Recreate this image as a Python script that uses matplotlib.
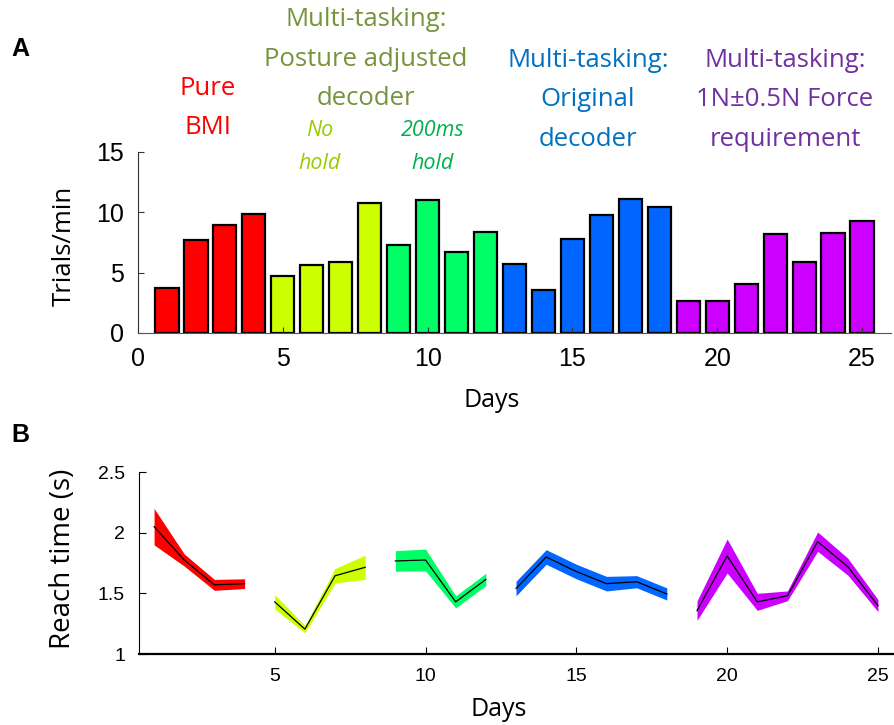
import matplotlib.pyplot as plt
import numpy as np

# Trials per minute for each recording day
days = np.arange(1, 26)
trials_per_min = [3.7, 7.7, 8.95, 9.9,
                  4.7, 5.65, 5.85, 10.75,
                  7.3, 11.0, 6.7, 8.4,
                  5.7, 3.6, 7.75, 9.8, 11.1, 10.4,
                  2.65, 2.65, 4.1, 8.2, 5.85, 8.25, 9.25]

# Reach time mean and spread per day
reach_time = [2.05, 1.775, 1.57, 1.58,
              1.43, 1.205, 1.645, 1.715,
              1.767, 1.775, 1.43, 1.615,
              1.54, 1.80, 1.68, 1.58, 1.596, 1.495,
              1.357, 1.808, 1.43, 1.48, 1.926, 1.72, 1.40]
reach_sem = [0.15, 0.05, 0.045, 0.04,
             0.06, 0.03, 0.06, 0.1,
             0.085, 0.09, 0.05, 0.05,
             0.06, 0.06, 0.06, 0.06, 0.05, 0.05,
             0.08, 0.14, 0.07, 0.04, 0.08, 0.07, 0.05]

# condition blocks: (first day, last day, colour)
blocks = [(1, 4, '#ff0000'),
          (5, 8, '#ccff00'),
          (9, 12, '#00ff66'),
          (13, 18, '#0066ff'),
          (19, 25, '#cc00ff')]

label_font = ['Open Sans', 'DejaVu Sans']
tick_font = 'Liberation Sans'

fig = plt.figure(figsize=(8.95, 7.25), dpi=100)

# ---- panel A: bars
ax1 = fig.add_axes([0.1542, 0.5407, 0.8413, 0.2497])
bar_colors = []
for d in days:
    for start, end, c in blocks:
        if start <= d <= end:
            bar_colors.append(c)
ax1.bar(days, trials_per_min, width=0.8, color=bar_colors,
        edgecolor='black', linewidth=1.6)
ax1.set_xlim(0, 26)
ax1.set_ylim(0, 15)
ax1.set_xticks([0, 5, 10, 15, 20, 25])
ax1.set_yticks([0, 5, 10, 15])
for s in ['top', 'right']:
    ax1.spines[s].set_visible(False)
ax1.spines['bottom'].set_color('#555555')
ax1.spines['left'].set_color('#333333')
ax1.tick_params(direction='in', length=4, labelsize=18, pad=10, color='#333333')
for lab in ax1.get_xticklabels() + ax1.get_yticklabels():
    lab.set_family(tick_font)
ax1.set_ylabel('Trials/min', family=label_font, fontsize=18.5, va='center')
ax1.yaxis.set_label_coords(-0.098, 0.483)
ax1.set_xlabel('Days', family=label_font, fontsize=18, va='center')
ax1.xaxis.set_label_coords(0.47, -0.375)

# ---- panel B: reach time with shaded spread
ax2 = fig.add_axes([0.1553, 0.0979, 0.8425, 0.251])
rt = np.array(reach_time)
se = np.array(reach_sem)
for start, end, c in blocks:
    idx = slice(start - 1, end)
    ax2.fill_between(days[idx], rt[idx] - se[idx], rt[idx] + se[idx],
                     color=c, linewidth=0)
    ax2.plot(days[idx], rt[idx], color='black', linewidth=0.9)
ax2.set_xlim(0.5, 25.5)
ax2.set_ylim(1, 2.5)
ax2.set_xticks([5, 10, 15, 20, 25])
ax2.set_yticks([1, 1.5, 2, 2.5])
ax2.set_yticklabels(['1', '1.5', '2', '2.5'])
for s in ['top', 'right']:
    ax2.spines[s].set_visible(False)
ax2.spines['bottom'].set_linewidth(1.6)
ax2.tick_params(direction='in', length=5, labelsize=14, pad=10)
for lab in ax2.get_xticklabels() + ax2.get_yticklabels():
    lab.set_family(tick_font)
ax2.set_ylabel('Reach time (s)', family=label_font, fontsize=20, va='center')
ax2.yaxis.set_label_coords(-0.101, 0.525)
ax2.set_xlabel('Days', family=label_font, fontsize=18, va='center')
ax2.xaxis.set_label_coords(0.477, -0.305)

# ---- panel letters and condition headers
fig.text(20 / 895, 1 - 49 / 725, 'A', fontsize=18, fontweight='bold',
         family='Liberation Sans', ha='center', va='center')
fig.text(20 / 895, 1 - 435 / 725, 'B', fontsize=18, fontweight='bold',
         family='Liberation Sans', ha='center', va='center')

headers = [(208, 108, 'Pure\nBMI', '#ff0000', 'normal'),
           (366, 59, 'Multi-tasking:\nPosture adjusted\ndecoder', '#77933c', 'normal'),
           (320, 147, 'No\nhold', '#99cc00', 'italic'),
           (433, 147, '200ms\nhold', '#00b050', 'italic'),
           (588, 100, 'Multi-tasking:\nOriginal\ndecoder', '#0070c0', 'normal'),
           (785, 100, 'Multi-tasking:\n1N±0.5N Force\nrequirement', '#7030a0', 'normal')]
for x, y, txt, c, st in headers:
    fs = 15.5 if st == 'italic' else 18.5
    fig.text(x / 895, 1 - y / 725, txt, color=c, fontsize=fs, style=st,
             family=label_font, ha='center', va='center', linespacing=1.75)

fig.savefig('out.png', dpi=100)
